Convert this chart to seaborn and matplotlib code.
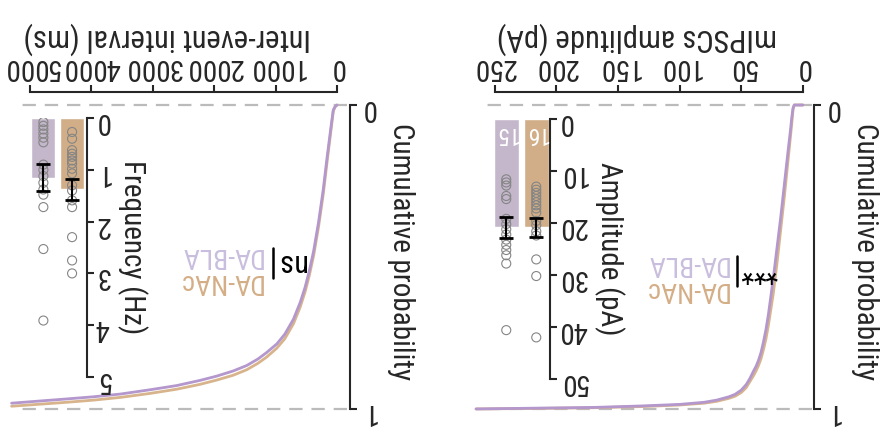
import pandas as pd
import matplotlib
matplotlib.use('Agg')
import matplotlib.pyplot as plt
import seaborn as sns

# cumulative distributions
amp_pA = [0, 7, 8, 9, 10, 12, 15, 18, 21, 24, 28, 30, 32, 34, 36, 38, 40, 43, 46, 50, 55, 60, 70,
          80, 100, 130, 170, 210, 265]
amp_cum_bla = [0, 0, 0.01, 0.04, 0.08, 0.15, 0.26, 0.37, 0.47, 0.57, 0.69, 0.74, 0.78, 0.815,
               0.84, 0.86, 0.875, 0.90, 0.92, 0.938, 0.952, 0.96, 0.971, 0.978, 0.985, 0.990,
               0.995, 0.997, 1.0]
amp_cum_nac = [0, 0, 0.015, 0.06, 0.10, 0.18, 0.30, 0.41, 0.52, 0.62, 0.725, 0.77, 0.805, 0.835,
               0.857, 0.875, 0.89, 0.91, 0.93, 0.946, 0.958, 0.965, 0.975, 0.981, 0.987, 0.992,
               0.996, 0.998, 1.0]

iei_ms = [0, 30, 60, 90, 160, 225, 300, 380, 450, 520, 600, 710, 850, 980, 1150, 1290, 1470,
          1690, 1960, 2230, 2610, 3050, 3530, 3970, 4400, 5300]
iei_cum_bla = [0, 0.005, 0.016, 0.06, 0.17, 0.28, 0.385, 0.48, 0.545, 0.60, 0.65, 0.705, 0.754,
               0.786, 0.815, 0.836, 0.857, 0.875, 0.892, 0.906, 0.923, 0.937, 0.951, 0.96,
               0.967, 0.981]
iei_cum_nac = [0, 0.006, 0.02, 0.07, 0.185, 0.295, 0.40, 0.495, 0.56, 0.615, 0.665, 0.72, 0.769,
               0.80, 0.83, 0.85, 0.871, 0.889, 0.905, 0.919, 0.935, 0.949, 0.962, 0.971,
               0.978, 0.991]

# per-cell values for the insets
amp_nac = [13.0, 13.6, 14.2, 14.8, 15.4, 16.0, 16.6, 17.2, 18.0, 19.6, 20.4, 21.6, 22.4, 27.0, 30.2, 42.0]
amp_bla = [11.6, 12.2, 12.8, 14.8, 15.4, 19.2, 20.2, 21.2, 22.2, 23.2, 24.2, 25.2, 26.2, 27.8, 40.6]
amp_mean = [20.8, 20.8]
amp_sem = [1.8, 2.0]

freq_nac = [0.27, 0.40, 0.62, 0.69, 0.75, 0.82, 0.88, 0.98, 1.07, 1.30, 1.40, 1.59, 1.72, 2.30, 2.75, 3.00]
freq_bla = [0.08, 0.15, 0.22, 0.30, 0.38, 0.47, 0.90, 1.00, 1.12, 1.25, 1.38, 1.48, 1.72, 2.53, 3.91]
freq_mean = [1.38, 1.15]
freq_sem = [0.205, 0.265]

groups = ['DA-NAc', 'DA-BLA']
line_colors = {'DA-NAc': '#D7B48C', 'DA-BLA': '#B497CD'}
bar_colors = ['#D1AE88', '#C4B7CC']
text_colors = {'DA-NAc': '#D4AE86', 'DA-BLA': '#C9BEDD'}

sns.set_style('ticks')
plt.rcParams['font.family'] = ['Arial Narrow', 'Roboto Condensed', 'PT Sans Narrow', 'Liberation Sans']
plt.rcParams['axes.linewidth'] = 1.5

W, H = 889, 438
fig = plt.figure(figsize=(W / 100, H / 100), dpi=100)


def box(l, r, t, b):
    return [l / W, 1 - b / H, (r - l) / W, (b - t) / H]


def fx(px, py):
    return px / W, 1 - py / H


# the whole figure is shown turned upside down (rotated 180 degrees)
def cum_panel(rect, x, cum_nac, cum_bla, xlim, xticks, xlabel, dash_span):
    ax = fig.add_axes(rect)
    df = pd.DataFrame({'x': x + x, 'p': cum_nac + cum_bla,
                       'group': ['DA-NAc'] * len(x) + ['DA-BLA'] * len(x)})
    sns.lineplot(data=df, x='x', y='p', hue='group', hue_order=groups, palette=line_colors,
                 linewidth=2, estimator=None, legend=False, ax=ax)
    ax.hlines([0, 1], dash_span[0], dash_span[1], colors='#BBBBBB', linewidth=1.6,
              linestyles=(0, (6, 4)), zorder=0)
    ax.set_xlim(*xlim)
    ax.set_ylim(1.01, -0.0428)
    ax.xaxis.tick_top()
    ax.xaxis.set_label_position('top')
    ax.yaxis.tick_right()
    ax.yaxis.set_label_position('right')
    ax.spines['left'].set_visible(False)
    ax.spines['bottom'].set_visible(False)
    ax.spines['top'].set_bounds(xticks[0], xticks[-1])
    ax.spines['right'].set_bounds(0, 1)
    ax.set_xticks(xticks)
    ax.set_yticks([0, 1])
    ax.tick_params(labelrotation=180, labelsize=21, width=1.5, length=5, pad=3)
    ax.set_xlabel(xlabel, rotation=180, fontsize=22, labelpad=4)
    ax.set_ylabel('Cumulative probability', rotation=270, va='bottom', fontsize=21, labelpad=8)
    return ax


def inset(rect, vals_nac, vals_bla, means, sems, xlim, ymax, yticks, ylabel, counts):
    ins = fig.add_axes(rect)
    ins.patch.set_alpha(0)
    sns.barplot(x=groups, y=means, hue=groups, order=groups, hue_order=groups, palette=bar_colors,
                width=0.83, saturation=1, errorbar=None, legend=False, ax=ins, zorder=1)
    pts = pd.DataFrame({'group': ['DA-NAc'] * len(vals_nac) + ['DA-BLA'] * len(vals_bla),
                        'v': vals_nac + vals_bla})
    sns.stripplot(data=pts, x='group', y='v', order=groups, jitter=False, color='gray',
                  facecolor='none', edgecolor='#858585', linewidth=0.8, size=6.5, ax=ins, zorder=3)
    ins.errorbar(range(len(groups)), means, yerr=sems, fmt='none', ecolor='black',
                 elinewidth=1.5, capsize=5, capthick=2, zorder=4)
    if counts:
        for i, vals in enumerate([vals_nac, vals_bla]):
            ins.text(i, 0.6, str(len(vals)), rotation=180, ha='center', va='top',
                     color='white', fontsize=17, zorder=5)
    ins.set_xlim(*xlim)
    ins.set_ylim(ymax, 0)
    ins.yaxis.tick_right()
    ins.yaxis.set_label_position('right')
    for s in ['left', 'bottom', 'top']:
        ins.spines[s].set_visible(False)
    ins.spines['right'].set_bounds(0, ymax)
    ins.set_xticks([])
    ins.set_xlabel('')
    ins.set_yticks(yticks)
    ins.tick_params(labelrotation=180, labelsize=21, width=1.5, length=5, pad=1)
    ins.set_ylabel(ylabel, rotation=270, va='bottom', fontsize=21, labelpad=5)
    return ins


def legend(px_right, py_top, px_bar, mark, mark_px, mark_size):
    fig.text(*fx(px_right, py_top + 11), 'DA-BLA', rotation=180, ha='right', va='center',
             color=text_colors['DA-BLA'], fontsize=20)
    fig.text(*fx(px_right, py_top + 37), 'DA-NAc', rotation=180, ha='right', va='center',
             color=text_colors['DA-NAc'], fontsize=20)
    x0, y0 = fx(px_bar, py_top + 3)
    x1, y1 = fx(px_bar, py_top + 33)
    fig.add_artist(plt.Line2D([x0, x1], [y0, y1], color='black', linewidth=1.8))
    fig.text(*fx(mark_px, py_top + 17), mark, rotation=180, ha='left', va='center',
             color='black', fontsize=mark_size)


# amplitude panel (right in the picture)
cum_panel(box(460, 814, 92, 412), amp_pA, amp_cum_nac, amp_cum_bla, (278, -9),
          [0, 50, 100, 150, 200, 250], 'mIPSCs amplitude (pA)', (-7, 259))
inset(box(492, 550, 119, 379), amp_nac, amp_bla, amp_mean, amp_sem, (1.475, -0.458), 50,
      [0, 10, 20, 30, 40, 50], 'Amplitude (pA)', True)
legend(728, 253, 737, '***', 740, 21)

# inter-event interval panel (left in the picture)
cum_panel(box(-15, 350, 92, 412), iei_ms, iei_cum_nac, iei_cum_bla, (5733, -212),
          [0, 1000, 2000, 3000, 4000, 5000], 'Inter-event interval (ms)', (-163, 5195))
inset(box(25, 87, 118, 377), freq_nac, freq_bla, freq_mean, freq_sem, (1.64, -0.52), 5,
      [0, 1, 2, 3, 4, 5], 'Frequency (Hz)', False)
legend(262, 245, 273, 'ns', 276, 22)

fig.savefig('out.png', dpi=100)
